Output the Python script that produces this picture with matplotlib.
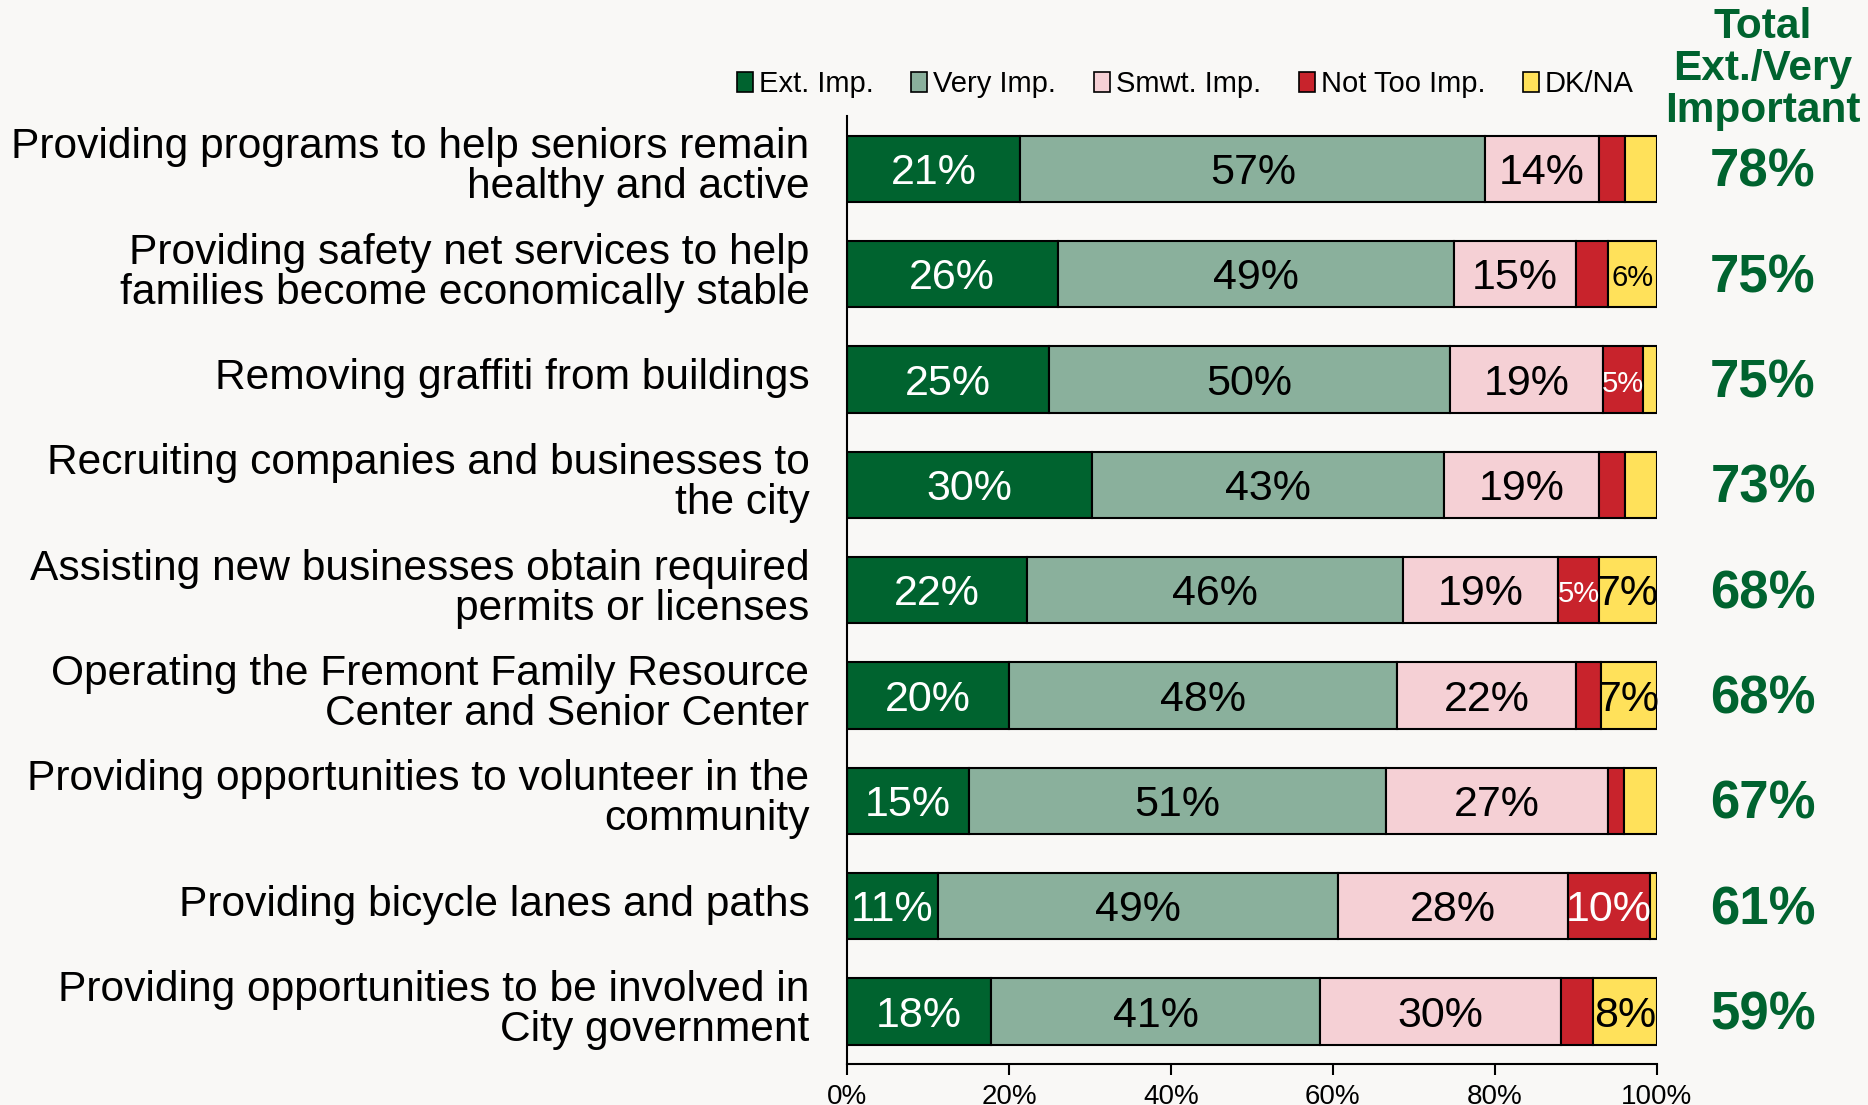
import matplotlib
matplotlib.use("Agg")
import matplotlib.pyplot as plt
import numpy as np
from matplotlib.patches import Patch
from matplotlib.transforms import ScaledTranslation

plt.rcParams['font.family'] = ['Liberation Sans', 'DejaVu Sans']

categories = [
    "Providing programs to help seniors remain\nhealthy and active",
    "Providing safety net services to help\nfamilies become economically stable",
    "Removing graffiti from buildings",
    "Recruiting companies and businesses to\nthe city",
    "Assisting new businesses obtain required\npermits or licenses",
    "Operating the Fremont Family Resource\nCenter and Senior Center",
    "Providing opportunities to volunteer in the\ncommunity",
    "Providing bicycle lanes and paths",
    "Providing opportunities to be involved in\nCity government",
]
ext_imp = [21.4, 26.0, 24.9, 30.3, 22.2, 20.0, 15.1, 11.2, 17.8]
very_imp = [57.4, 49.0, 49.6, 43.4, 46.4, 47.9, 51.4, 49.4, 40.6]
smwt_imp = [14.0, 15.0, 18.8, 19.2, 19.2, 22.1, 27.4, 28.4, 29.7]
not_too_imp = [3.2, 4.0, 5.0, 3.1, 5.0, 3.1, 2.0, 10.1, 4.0]
dk_na = [4.0, 6.0, 1.7, 4.0, 7.2, 6.9, 4.1, 0.9, 7.9]
totals = ["78%", "75%", "75%", "73%", "68%", "68%", "67%", "61%", "59%"]
series_names = ["Ext. Imp.", "Very Imp.", "Smwt. Imp.", "Not Too Imp.", "DK/NA"]
tick_values = [0, 20, 40, 60, 80, 100]
tick_labels = ["0%", "20%", "40%", "60%", "80%", "100%"]

colors = ["#00632F", "#8AB09C", "#F5D0D5", "#C8232C", "#FFE15A"]
text_colors = ["white", "black", "black", "white", "black"]
bg = "#F9F8F6"
green = "#00632F"

fig = plt.figure(figsize=(18.68, 11.05), dpi=100, facecolor=bg)
ax = fig.add_axes([0.4534, 0.037, 0.4336, 0.858])
ax.set_facecolor(bg)

series = [ext_imp, very_imp, smwt_imp, not_too_imp, dk_na]
y = np.arange(len(categories))
left = np.zeros(len(categories))
dy = 0.04
for vals, col, tc in zip(series, colors, text_colors):
    vals = np.array(vals)
    ax.barh(y, vals, left=left, height=0.63, color=col, edgecolor="black", linewidth=1.5, zorder=2)
    for yi, l, v in zip(y, left, vals):
        r = int(round(v))
        if r >= 5:
            fs = 21 if v < 6.5 else 31
            ax.text(l + v / 2, yi + dy, f"{r}%", ha="center", va="center", color=tc, fontsize=fs, zorder=3)
    left = left + vals

ax.set_xlim(0, 100)
ax.set_ylim(len(categories) - 0.5, -0.5)
ax.set_yticks(y)
ax.set_yticklabels(categories, fontsize=30.6, linespacing=1.0)
ax.tick_params(axis="y", length=0, pad=27)
shift = ScaledTranslation(0, 0.06, fig.dpi_scale_trans)
for lab in ax.get_yticklabels():
    lab.set_transform(lab.get_transform() + shift)
ax.set_xticks(tick_values)
ax.set_xticklabels(tick_labels, fontsize=20)
ax.tick_params(axis="x", length=8, width=1.5, pad=6)
for s in ["top", "right"]:
    ax.spines[s].set_visible(False)
ax.spines["left"].set_linewidth(1.5)
ax.spines["bottom"].set_linewidth(1.5)

# Totals column
fig.text(0.9435, 0.9375, "Total\nExt./Very\nImportant", ha="center", va="center",
         fontsize=30.5, fontweight="bold", color=green, linespacing=1.06)
for yi, t in zip(y, totals):
    ax.text(1.131, yi + dy, t, transform=ax.get_yaxis_transform(), ha="center", va="center",
            fontsize=38, fontweight="bold", color=green, clip_on=False)

handles = [Patch(facecolor=c, edgecolor="black", linewidth=1.2) for c in colors]
fig.legend(handles, series_names, loc="center", bbox_to_anchor=(0.6345, 0.924), ncol=5,
           frameon=False, fontsize=21, handlelength=0.55, handleheight=0.7,
           handletextpad=0.2, columnspacing=1.3)

fig.savefig("out.png", dpi=100, facecolor=bg)
